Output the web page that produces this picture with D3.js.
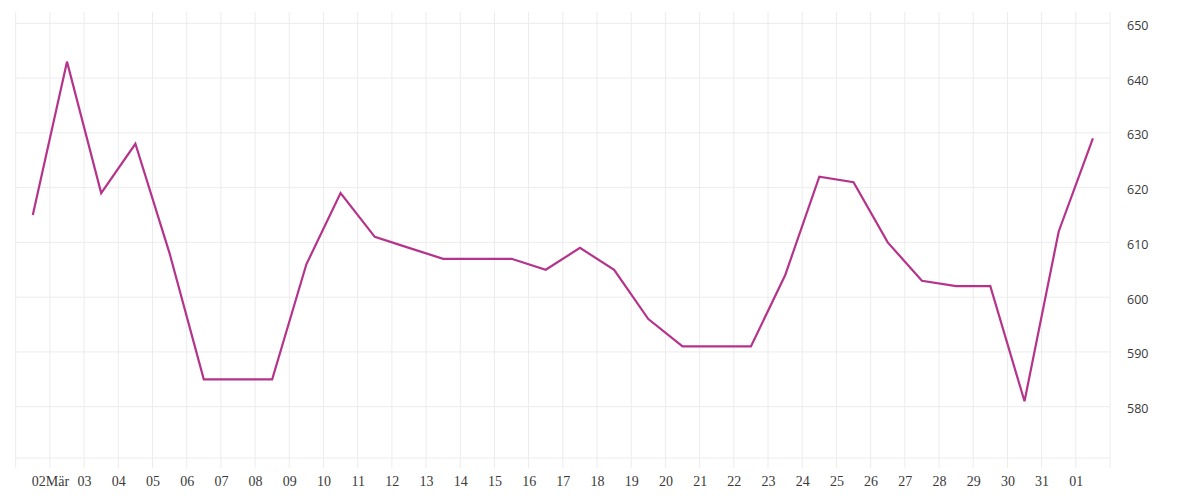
<!DOCTYPE html>
<html>
<head>
<meta charset="utf-8">
<script src="https://cdn.jsdelivr.net/npm/d3@7"></script>
<style>
  body { margin: 0; background: #fff; }
  .xlab { font-family: "Liberation Serif", serif; font-size: 14px; fill: #3a3a3a; }
  .ylab { font-family: "Open Sans", sans-serif; font-size: 12.5px; fill: #3a3a3a; }
</style>
</head>
<body>
<div id="chart"></div>
<script>
// Daily values, 01 Mar to 01 Apr (one point per day, plotted at noon)
var days = ["2020-03-01", "2020-03-02", "2020-03-03", "2020-03-04", "2020-03-05", "2020-03-06",
  "2020-03-07", "2020-03-08", "2020-03-09", "2020-03-10", "2020-03-11", "2020-03-12",
  "2020-03-13", "2020-03-14", "2020-03-15", "2020-03-16", "2020-03-17", "2020-03-18",
  "2020-03-19", "2020-03-20", "2020-03-21", "2020-03-22", "2020-03-23", "2020-03-24",
  "2020-03-25", "2020-03-26", "2020-03-27", "2020-03-28", "2020-03-29", "2020-03-30",
  "2020-03-31", "2020-04-01"];
var values = [615, 643, 619, 628, 608, 585, 585, 585, 606, 619, 611, 609,
  607, 607, 607, 605, 609, 605, 596, 591, 591, 591, 604, 622,
  621, 610, 603, 602, 602, 581, 612, 629];
var yTicks = [580, 590, 600, 610, 620, 630, 640, 650];

var svgWidth = 1200;
var svgHeight = 500;

var plot = { left: 15.7, right: 1110, top: 12, bottom: 458 };

var svg = d3.select("#chart")
  .append("svg")
  .attr("width", svgWidth)
  .attr("height", svgHeight);

var parse = d3.utcParse("%Y-%m-%d");
var data = days.map(function(d, i) {
  return { date: d3.utcHour.offset(parse(d), 12), value: values[i] };
});

var xScale = d3.scaleUtc()
  .domain([parse("2020-03-01"), parse("2020-04-02")])
  .range([plot.left, plot.right]);

var yScale = d3.scaleLinear()
  .domain([580, 650])
  .range([406.7, 23.3]);

// vertical grid, one line per day
var dayLines = d3.utcDay.range(parse("2020-03-01"), d3.utcDay.offset(parse("2020-04-02"), 1));
svg.append("g")
  .selectAll("line")
  .data(dayLines)
  .enter()
  .append("line")
  .attr("x1", d => xScale(d))
  .attr("x2", d => xScale(d))
  .attr("y1", plot.top)
  .attr("y2", plot.bottom + 10)
  .attr("stroke", "#ececec")
  .attr("stroke-width", 1);

// horizontal grid
svg.append("g")
  .selectAll("line")
  .data(yTicks)
  .enter()
  .append("line")
  .attr("x1", plot.left)
  .attr("x2", plot.right)
  .attr("y1", d => yScale(d))
  .attr("y2", d => yScale(d))
  .attr("stroke", "#ececec")
  .attr("stroke-width", 1);

svg.append("line")
  .attr("x1", plot.left)
  .attr("x2", plot.right)
  .attr("y1", plot.bottom)
  .attr("y2", plot.bottom)
  .attr("stroke", "#ececec");

// right axis labels
var rightAxis = d3.axisRight(yScale).tickValues(yTicks).tickSize(0).tickPadding(0);
var yAxisG = svg.append("g")
  .attr("transform", `translate(${plot.right + 17}, 2)`)
  .call(rightAxis);
yAxisG.select(".domain").remove();
yAxisG.selectAll("text").attr("class", "ylab").attr("fill", null);

// bottom axis labels
var labelDays = d3.utcDay.range(parse("2020-03-02"), parse("2020-04-02"));
var fmtDay = d3.utcFormat("%d");
var bottomAxis = d3.axisBottom(xScale)
  .tickValues(labelDays)
  .tickSize(0)
  .tickPadding(0)
  .tickFormat(function(d, i) { return i === 0 ? fmtDay(d) + "Mär" : fmtDay(d); });
var xAxisG = svg.append("g")
  .attr("transform", `translate(0, ${plot.bottom + 18})`)
  .call(bottomAxis);
xAxisG.select(".domain").remove();
xAxisG.selectAll("text").attr("class", "xlab").attr("fill", null);

// the line
var line = d3.line()
  .x(d => xScale(d.date))
  .y(d => yScale(d.value));

svg.append("path")
  .datum(data)
  .attr("d", line)
  .attr("fill", "none")
  .attr("stroke", "#b5338a")
  .attr("stroke-width", 2.2)
  .attr("stroke-linejoin", "miter");
</script>
</body>
</html>
